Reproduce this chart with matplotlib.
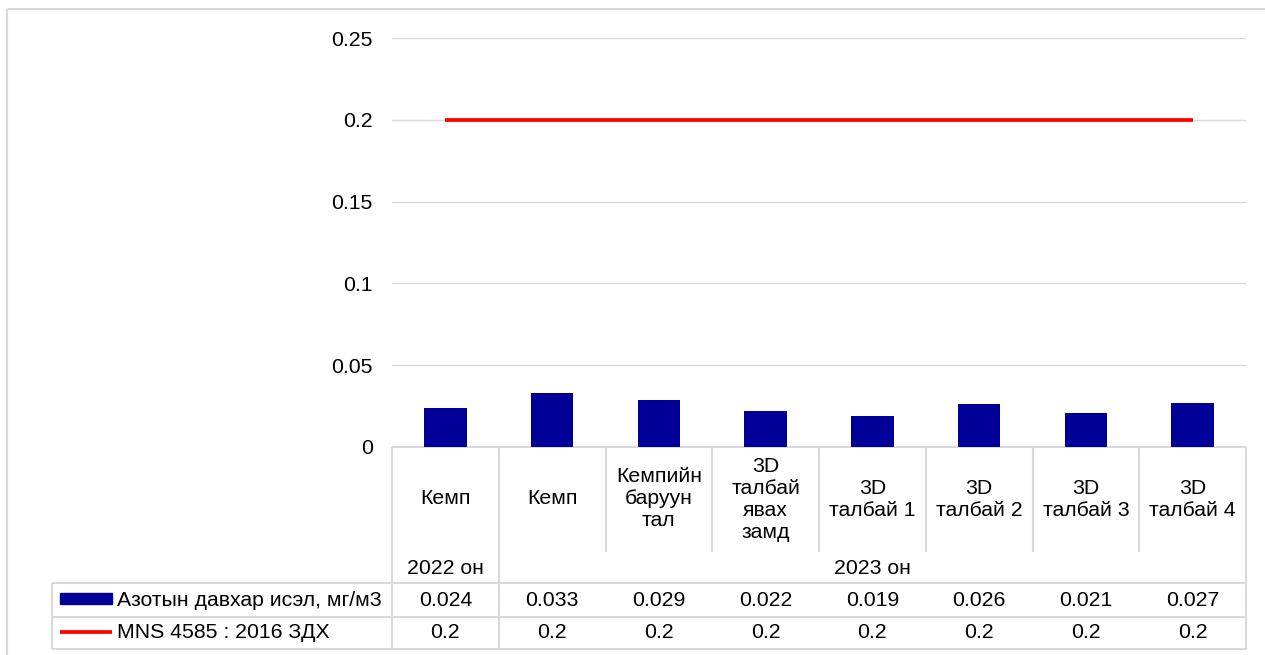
import matplotlib
matplotlib.use('Agg')
import matplotlib.pyplot as plt
from matplotlib.patches import Rectangle
import numpy as np

plt.rcParams['font.family'] = ['Liberation Sans', 'DejaVu Sans']

# Хэмжилтийн цэгүүд ба утгууд
categories = ['Кемп', 'Кемп', 'Кемпийн\nбаруун\nтал', '3D\nталбай\nявах\nзамд',
              '3D\nталбай 1', '3D\nталбай 2', '3D\nталбай 3', '3D\nталбай 4']
years = ['2022 он', '2023 он']
year_spans = [1, 7]
no2 = [0.024, 0.033, 0.029, 0.022, 0.019, 0.026, 0.021, 0.027]
standard = [0.2, 0.2, 0.2, 0.2, 0.2, 0.2, 0.2, 0.2]
no2_name = 'Азотын давхар исэл, мг/м3'
standard_name = 'MNS 4585 : 2016 ЗДХ'
yticks = [0, 0.05, 0.1, 0.15, 0.2, 0.25]
ytick_labels = ['0', '0.05', '0.1', '0.15', '0.2', '0.25']

BAR = '#000099'
RED = '#ff0000'
GRID = '#d9d9d9'
FS = 15.3

W, H = 1265, 655
fig = plt.figure(figsize=(W / 100, H / 100), dpi=100)


def box(x0, y0, x1, y1):
    """pixel box (top-left origin) -> figure fraction rect"""
    return [x0 / W, 1 - y1 / H, (x1 - x0) / W, (y1 - y0) / H]


# хүснэгт, хүрээний шугамууд зурах давхарга
tab = fig.add_axes([0, 0, 1, 1], zorder=0)
tab.set_xlim(0, W)
tab.set_ylim(H, 0)
tab.axis('off')
tab.patch.set_visible(False)

ax = fig.add_axes(box(392, 38, 1246, 447), zorder=1)
ax.patch.set_visible(False)
x = np.arange(len(no2))
ax.bar(x, no2, width=0.4, color=BAR, zorder=3)
ax.plot(x, standard, color=RED, lw=2.7, zorder=4, solid_capstyle='butt')
ax.set_xlim(-0.5, len(no2) - 0.5)
ax.set_ylim(0, 0.25)
ax.set_yticks(yticks, ytick_labels)
ax.set_xticks([])
ax.yaxis.grid(True, color=GRID, lw=1)
ax.set_axisbelow(True)
for s in ax.spines.values():
    s.set_visible(False)
ax.tick_params(axis='y', length=0, pad=13.7, labelsize=FS)

# баганын хил (пиксел)
edges = [ax.transData.transform((i - 0.5, 0))[0] for i in range(len(no2) + 1)]
centers = [(edges[i] + edges[i + 1]) / 2 for i in range(len(no2))]

lk = dict(color=GRID, lw=1.5, solid_capstyle='butt')
y_top, y_cat, y_year, y_r1, y_r2 = 447, 552, 583, 617, 649
x_left = 52

# гадна хүрээ
tab.plot([7, W], [9, 9], **lk)
tab.plot([7, 7], [9, H], **lk)

tab.plot([edges[0], edges[-1]], [y_top, y_top], **lk)
for yy in (y_year, y_r1, y_r2):
    tab.plot([x_left, edges[-1]], [yy, yy], **lk)
tab.plot([x_left, x_left], [y_year, y_r2], **lk)

# жилийн хил дээрх босоо шугамууд бүтэн
year_edges = [0]
for n in year_spans:
    year_edges.append(year_edges[-1] + n)
for i, ex in enumerate(edges):
    bottom = y_r2 if i in year_edges else y_cat
    tab.plot([ex, ex], [y_top, bottom], **lk)

for c, lab in zip(centers, categories):
    tab.text(c, 499, lab, ha='center', va='center', fontsize=FS,
             linespacing=1.2)

for k, yr in enumerate(years):
    a, b = year_edges[k], year_edges[k + 1]
    tab.text((edges[a] + edges[b]) / 2, 569, yr, ha='center', va='center',
             fontsize=FS)

for c, v, s in zip(centers, no2, standard):
    tab.text(c, 600, f'{v:g}', ha='center', va='center', fontsize=FS)
    tab.text(c, 633, f'{s:g}', ha='center', va='center', fontsize=FS)

# тайлбарын тэмдэг
tab.add_patch(Rectangle((60, 593), 52, 11, color=BAR))
tab.plot([60, 112], [632, 632], color=RED, lw=2.7, solid_capstyle='butt')
tab.text(117, 600, no2_name, ha='left', va='center', fontsize=FS)
tab.text(117, 633, standard_name, ha='left', va='center', fontsize=FS)

fig.savefig('out.png', dpi=100)
